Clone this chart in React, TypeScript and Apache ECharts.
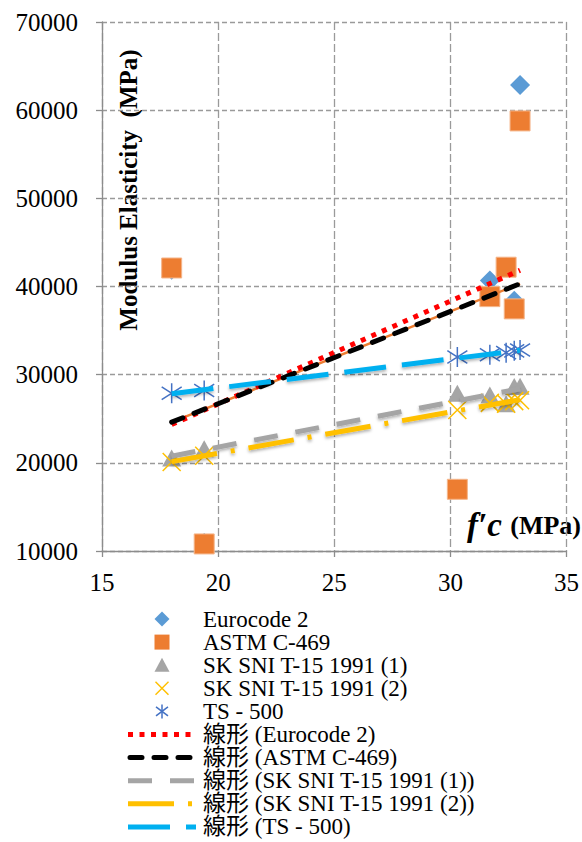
import React, { useEffect, useRef } from "react";
import * as echarts from "echarts";

const fcValues = [18, 19.4, 30.3, 31.7, 32.4, 32.75, 33.0];
const eurocode2 = [41900, 10900, 17000, 40670, 42190, 38370, 62860];
const astmC469 = [42100, 10800, 17000, 38850, 42190, 37460, 58780];
const skSni1 = [20560, 21590, 27900, 27700, 26700, 28650, 28700];
const skSni2 = [20100, 20800, 26000, 26800, 26700, 27000, 27100];
const ts500 = [27900, 28200, 32000, 32250, 32500, 32700, 32800];

const seriesNames = ["Eurocode 2", "ASTM C-469", "SK SNI T-15 1991 (1)", "SK SNI T-15 1991 (2)", "TS - 500"];
const trendPrefix = "線形";

const SERIF = "Liberation Serif";
const LEGEND_FONT = "'Liberation Serif', 'Noto Sans CJK JP', serif";

const C_EURO = "#5B9BD5";
const C_ASTM = "#ED7D31";
const C_SK1 = "#A5A5A5";
const C_SK2 = "#FFC000";
const C_TS = "#4472C4";
const C_TS_LINE = "#00B0F0";

function pairs(ys: number[]) {
  return fcValues.map((x, i) => [x, ys[i]]);
}

function trend(ys: number[]) {
  const n = fcValues.length;
  const mx = fcValues.reduce((a, b) => a + b, 0) / n;
  const my = ys.reduce((a, b) => a + b, 0) / n;
  let sxx = 0;
  let sxy = 0;
  for (let i = 0; i < n; i++) {
    sxx += (fcValues[i] - mx) ** 2;
    sxy += (fcValues[i] - mx) * (ys[i] - my);
  }
  const b = sxy / sxx;
  const a = my - b * mx;
  const x0 = Math.min(...fcValues);
  const x1 = Math.max(...fcValues);
  return [
    [x0, a + b * x0],
    [x1, a + b * x1],
  ];
}

function legendMarker(kind: string, cx: number, cy: number): any {
  const s = 7.5;
  switch (kind) {
    case "diamond":
      return {
        type: "polygon",
        shape: { points: [[cx, cy - s], [cx + s, cy], [cx, cy + s], [cx - s, cy]] },
        style: { fill: C_EURO },
      };
    case "rect":
      return { type: "rect", shape: { x: cx - s, y: cy - s, width: 2 * s, height: 2 * s }, style: { fill: C_ASTM } };
    case "triangle":
      return {
        type: "polygon",
        shape: { points: [[cx, cy - s], [cx + s, cy + s - 1], [cx - s, cy + s - 1]] },
        style: { fill: C_SK1 },
      };
    case "cross":
      return {
        type: "group",
        children: [
          { type: "line", shape: { x1: cx - 6.5, y1: cy - 6.5, x2: cx + 6.5, y2: cy + 6.5 }, style: { stroke: C_SK2, lineWidth: 1.5 } },
          { type: "line", shape: { x1: cx - 6.5, y1: cy + 6.5, x2: cx + 6.5, y2: cy - 6.5 }, style: { stroke: C_SK2, lineWidth: 1.5 } },
        ],
      };
    default:
      return {
        type: "group",
        children: [
          { type: "line", shape: { x1: cx, y1: cy - 7, x2: cx, y2: cy + 7 }, style: { stroke: C_TS, lineWidth: 1.5 } },
          { type: "line", shape: { x1: cx - 6, y1: cy - 4.5, x2: cx + 6, y2: cy + 4.5 }, style: { stroke: C_TS, lineWidth: 1.5 } },
          { type: "line", shape: { x1: cx - 6, y1: cy + 4.5, x2: cx + 6, y2: cy - 4.5 }, style: { stroke: C_TS, lineWidth: 1.5 } },
        ],
      };
  }
}

export default function App() {
  const ref = useRef<HTMLDivElement>(null);
  useEffect(() => {
    if (!ref.current) return;
    const chart = echarts.init(ref.current, null, { renderer: "svg" });
    const trendNames = seriesNames.map((n) => `${trendPrefix} (${n})`);
    const trendStyles = [
      { color: "#FF0000", dash: [5, 6.5], cap: "butt" },
      { color: "#000000", dash: [12, 12], cap: "round" },
      { color: C_SK1, dash: [24, 18], cap: "butt", shadow: true },
      { color: C_SK2, dash: [46, 14, 4, 14], cap: "butt", shadow: true },
      { color: C_TS_LINE, dash: [42, 16], cap: "butt", shadow: true },
    ];
    const trendData = [eurocode2, astmC469, skSni1, skSni2, ts500];
    const markerKinds = ["diamond", "rect", "triangle", "cross", "star"];

    const legendTop = 619;
    const legendStep = 23.1;
    const legendGraphics: any[] = [];
    seriesNames.forEach((name, i) => {
      const cy = legendTop + i * legendStep;
      legendGraphics.push(legendMarker(markerKinds[i], 162, cy));
      legendGraphics.push({
        type: "text",
        x: 203,
        y: cy,
        style: { text: name, fontFamily: LEGEND_FONT, fontSize: 23, fill: "#000", textVerticalAlign: "middle" },
      });
    });
    trendNames.forEach((name, i) => {
      const cy = legendTop + (i + 5) * legendStep;
      const st = trendStyles[i];
      legendGraphics.push({
        type: "line",
        shape: { x1: st.cap === "round" ? 130 : 128, y1: cy, x2: 196, y2: cy },
        style: { stroke: st.color, lineWidth: 5, lineDash: st.dash, lineCap: st.cap },
      });
      legendGraphics.push({
        type: "text",
        x: 203,
        y: cy,
        style: { text: name, fontFamily: LEGEND_FONT, fontSize: 23, fill: "#000", textVerticalAlign: "middle" },
      });
    });

    const trendSeries = trendNames.map((name, i) => {
      const st = trendStyles[i];
      return {
        name,
        type: "line",
        data: trend(trendData[i]),
        symbol: "none",
        showSymbol: false,
        z: 5,
        lineStyle: {
          color: st.color,
          width: 5,
          type: st.dash,
          cap: st.cap,
          ...(st.shadow ? { shadowColor: "rgba(0,0,0,0.3)", shadowBlur: 3, shadowOffsetY: 2 } : {}),
        },
      };
    });

    chart.setOption({
      animation: false,
      backgroundColor: "#ffffff",
      textStyle: { fontFamily: SERIF },
      grid: { left: 102, right: 13, top: 22, bottom: 291 },
      xAxis: {
        type: "value",
        min: 15,
        max: 35,
        interval: 5,
        axisLine: { show: true, lineStyle: { color: "#8c8c8c", width: 1.3 } },
        axisTick: { show: true, length: 6, lineStyle: { color: "#8c8c8c", width: 1.3 } },
        axisLabel: { color: "#000", fontSize: 25, fontFamily: SERIF, margin: 19 },
        splitLine: { show: true, lineStyle: { color: "#9a9a9a", width: 1.3, type: [8, 3] } },
      },
      yAxis: {
        type: "value",
        min: 10000,
        max: 70000,
        interval: 10000,
        axisLine: { show: true, lineStyle: { color: "#8c8c8c", width: 1.3 } },
        axisTick: { show: true, length: 6, lineStyle: { color: "#8c8c8c", width: 1.3 } },
        axisLabel: {
          color: "#000",
          fontSize: 25,
          fontFamily: SERIF,
          margin: 24,
          formatter: (v: number) => String(v),
        },
        splitLine: { show: true, lineStyle: { color: "#9a9a9a", width: 1.3, type: [5, 3] } },
      },
      graphic: [
        {
          type: "text",
          x: 128,
          y: 190,
          rotation: Math.PI / 2,
          style: {
            text: "Modulus Elasticity  (MPa)",
            fontFamily: SERIF,
            fontWeight: "bold",
            fontSize: 25,
            fill: "#000",
            textAlign: "center",
            textVerticalAlign: "middle",
          },
        },
        {
          type: "text",
          x: 581,
          y: 525,
          style: {
            text: "{a|f′c }{b|(MPa)}",
            textAlign: "right",
            textVerticalAlign: "middle",
            rich: {
              a: { fontFamily: SERIF, fontWeight: "bold", fontStyle: "italic", fontSize: 33, fill: "#000" },
              b: { fontFamily: SERIF, fontWeight: "bold", fontSize: 26, fill: "#000" },
            },
          },
        },
        ...legendGraphics,
      ],
      series: [
        {
          name: seriesNames[0],
          type: "scatter",
          data: pairs(eurocode2),
          symbol: "diamond",
          symbolSize: 20,
          itemStyle: { color: C_EURO, opacity: 1 },
          z: 2,
        },
        {
          name: seriesNames[1],
          type: "scatter",
          data: pairs(astmC469),
          symbol: "rect",
          symbolSize: 20,
          itemStyle: { color: C_ASTM, borderColor: "#f5b58a", borderWidth: 1, opacity: 1 },
          z: 2,
        },
        {
          name: seriesNames[2],
          type: "scatter",
          data: pairs(skSni1),
          symbol: "triangle",
          symbolSize: [19, 17],
          itemStyle: { color: C_SK1, opacity: 1 },
          z: 2,
        },
        {
          name: seriesNames[3],
          type: "scatter",
          data: pairs(skSni2),
          symbol: "path://M0,0L10,10M0,10L10,0",
          symbolSize: 18,
          itemStyle: { color: "rgba(0,0,0,0)", borderColor: C_SK2, borderWidth: 1.5, opacity: 1 },
          z: 2,
        },
        {
          name: seriesNames[4],
          type: "scatter",
          data: pairs(ts500),
          symbol: "path://M5,0L5,10M0.8,1.8L9.2,8.2M0.8,8.2L9.2,1.8",
          symbolSize: 20,
          itemStyle: { color: "rgba(0,0,0,0)", borderColor: C_TS, borderWidth: 1.5, opacity: 1 },
          z: 2,
        },
        {
          name: "astm-base",
          type: "line",
          data: trend(astmC469),
          symbol: "none",
          showSymbol: false,
          z: 4,
          lineStyle: { color: C_ASTM, width: 2.5 },
        },
        ...trendSeries,
      ],
    });
    return () => chart.dispose();
  }, []);
  return <div ref={ref} style={{ position: "fixed", left: 0, top: 0, width: 582, height: 842 }} />;
}
